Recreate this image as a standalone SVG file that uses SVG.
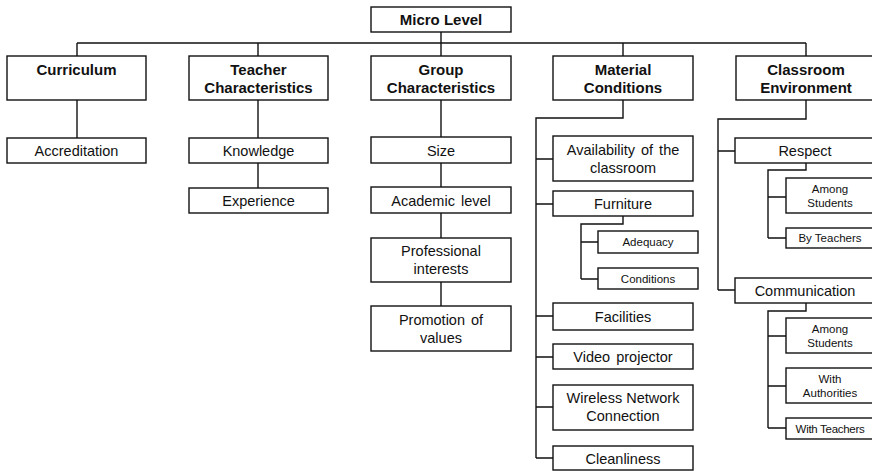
<svg xmlns="http://www.w3.org/2000/svg" width="872" height="471" viewBox="0 0 872 471">
  <style>
    rect { fill: #ffffff; stroke: #111111; stroke-width: 1.4; }
    text { font-family: "Liberation Sans", Arial, sans-serif; fill: #111111; text-anchor: middle; }
    .h { font-size: 15px; font-weight: bold; }
    .n { font-size: 14.5px; }
    .s { font-size: 11.5px; }
    #connectors path { fill: none; stroke: #111111; stroke-width: 1.4; }
  </style>

  <g id="connectors">
    <!-- root to first level -->
    <path d="M441,32 V43 M77,43 H806 M77,43 V56 M258,43 V56 M441,43 V56 M623,43 V56 M806,43 V56"/>
    <!-- curriculum -->
    <path d="M77,100 V138"/>
    <!-- teacher characteristics -->
    <path d="M258,100 V138 M258,163 V188"/>
    <!-- group characteristics -->
    <path d="M441,100 V137 M441,163 V187 M441,213 V238 M441,282 V306"/>
    <!-- material conditions -->
    <path d="M623,100 V118 H536 V458 M536,159 H553 M536,204 H553 M536,316 H553 M536,357 H553 M536,407 H553 M536,458 H553"/>
    <path d="M623,216 V224 H581 V279 M581,242 H598 M581,279 H598"/>
    <!-- classroom environment -->
    <path d="M806,100 V119 H718 V290 M718,151 H735 M718,290 H735"/>
    <path d="M806,163 V170 H768 V238 M768,197 H786 M768,238 H786"/>
    <path d="M806,303 V311 H768 V428 M768,336 H786 M768,386 H786 M768,428 H786"/>
  </g>

  <g id="micro-level">
    <rect x="371" y="7" width="140" height="25"/>
    <text class="h" x="441" y="24.5">Micro Level</text>
  </g>

  <!-- first level -->
  <g id="curriculum">
    <rect x="7" y="56" width="139" height="44"/>
    <text class="h" x="76.5" y="75">Curriculum</text>
  </g>
  <g id="teacher-characteristics">
    <rect x="189" y="56" width="139" height="44"/>
    <text class="h" x="258.5" y="75">Teacher</text>
    <text class="h" x="258.5" y="92.5">Characteristics</text>
  </g>
  <g id="group-characteristics">
    <rect x="371" y="56" width="140" height="44"/>
    <text class="h" x="441" y="75">Group</text>
    <text class="h" x="441" y="92.5">Characteristics</text>
  </g>
  <g id="material-conditions">
    <rect x="553" y="56" width="140" height="44"/>
    <text class="h" x="623" y="75">Material</text>
    <text class="h" x="623" y="92.5">Conditions</text>
  </g>
  <g id="classroom-environment">
    <rect x="736" y="56" width="140" height="44"/>
    <text class="h" x="806" y="75">Classroom</text>
    <text class="h" x="806" y="92.5">Environment</text>
  </g>

  <!-- curriculum children -->
  <g id="accreditation">
    <rect x="7" y="138" width="139" height="25"/>
    <text class="n" x="76.5" y="156">Accreditation</text>
  </g>

  <!-- teacher children -->
  <g id="knowledge">
    <rect x="189" y="138" width="139" height="25"/>
    <text class="n" x="258.5" y="156">Knowledge</text>
  </g>
  <g id="experience">
    <rect x="189" y="188" width="139" height="25"/>
    <text class="n" x="258.5" y="206">Experience</text>
  </g>

  <!-- group children -->
  <g id="size">
    <rect x="371" y="137" width="140" height="26"/>
    <text class="n" x="441" y="155.5">Size</text>
  </g>
  <g id="academic-level">
    <rect x="371" y="187" width="140" height="26"/>
    <text class="n" x="441" y="205.5" word-spacing="2">Academic level</text>
  </g>
  <g id="professional-interests">
    <rect x="371" y="238" width="140" height="44"/>
    <text class="n" x="441" y="256">Professional</text>
    <text class="n" x="441" y="274">interests</text>
  </g>
  <g id="promotion-of-values">
    <rect x="371" y="306" width="140" height="45"/>
    <text class="n" x="441" y="325" word-spacing="2">Promotion of</text>
    <text class="n" x="441" y="343">values</text>
  </g>

  <!-- material children -->
  <g id="availability">
    <rect x="553" y="136" width="140" height="45"/>
    <text class="n" x="623" y="155" word-spacing="2">Availability of the</text>
    <text class="n" x="623" y="173">classroom</text>
  </g>
  <g id="furniture">
    <rect x="553" y="191" width="140" height="25"/>
    <text class="n" x="623" y="209">Furniture</text>
  </g>
  <g id="adequacy">
    <rect x="598" y="231" width="100" height="22"/>
    <text class="s" x="648" y="246">Adequacy</text>
  </g>
  <g id="furniture-conditions">
    <rect x="598" y="268" width="100" height="21"/>
    <text class="s" x="648" y="283">Conditions</text>
  </g>
  <g id="facilities">
    <rect x="553" y="303" width="140" height="27"/>
    <text class="n" x="623" y="321.5">Facilities</text>
  </g>
  <g id="video-projector">
    <rect x="553" y="344" width="140" height="25"/>
    <text class="n" x="623" y="362" word-spacing="2">Video projector</text>
  </g>
  <g id="wireless-network">
    <rect x="553" y="385" width="140" height="45"/>
    <text class="n" x="623" y="403">Wireless Network</text>
    <text class="n" x="623" y="421">Connection</text>
  </g>
  <g id="cleanliness">
    <rect x="553" y="446" width="140" height="24"/>
    <text class="n" x="623" y="463.5">Cleanliness</text>
  </g>

  <!-- classroom environment children -->
  <g id="respect">
    <rect x="735" y="138" width="142" height="25"/>
    <text class="n" x="805" y="156">Respect</text>
  </g>
  <g id="respect-among-students">
    <rect x="786" y="178" width="90" height="35"/>
    <text class="s" x="830" y="193">Among</text>
    <text class="s" x="830" y="207">Students</text>
  </g>
  <g id="respect-by-teachers">
    <rect x="786" y="228" width="90" height="20"/>
    <text class="s" x="830" y="242">By Teachers</text>
  </g>
  <g id="communication">
    <rect x="735" y="278" width="142" height="25"/>
    <text class="n" x="805" y="296">Communication</text>
  </g>
  <g id="communication-among-students">
    <rect x="786" y="318" width="90" height="35"/>
    <text class="s" x="830" y="332.5">Among</text>
    <text class="s" x="830" y="346.5">Students</text>
  </g>
  <g id="with-authorities">
    <rect x="786" y="368" width="90" height="35"/>
    <text class="s" x="830" y="382.5">With</text>
    <text class="s" x="830" y="396.5">Authorities</text>
  </g>
  <g id="with-teachers">
    <rect x="786" y="418" width="90" height="21"/>
    <text class="s" x="830" y="432.5" letter-spacing="-0.3">With Teachers</text>
  </g>
</svg>
